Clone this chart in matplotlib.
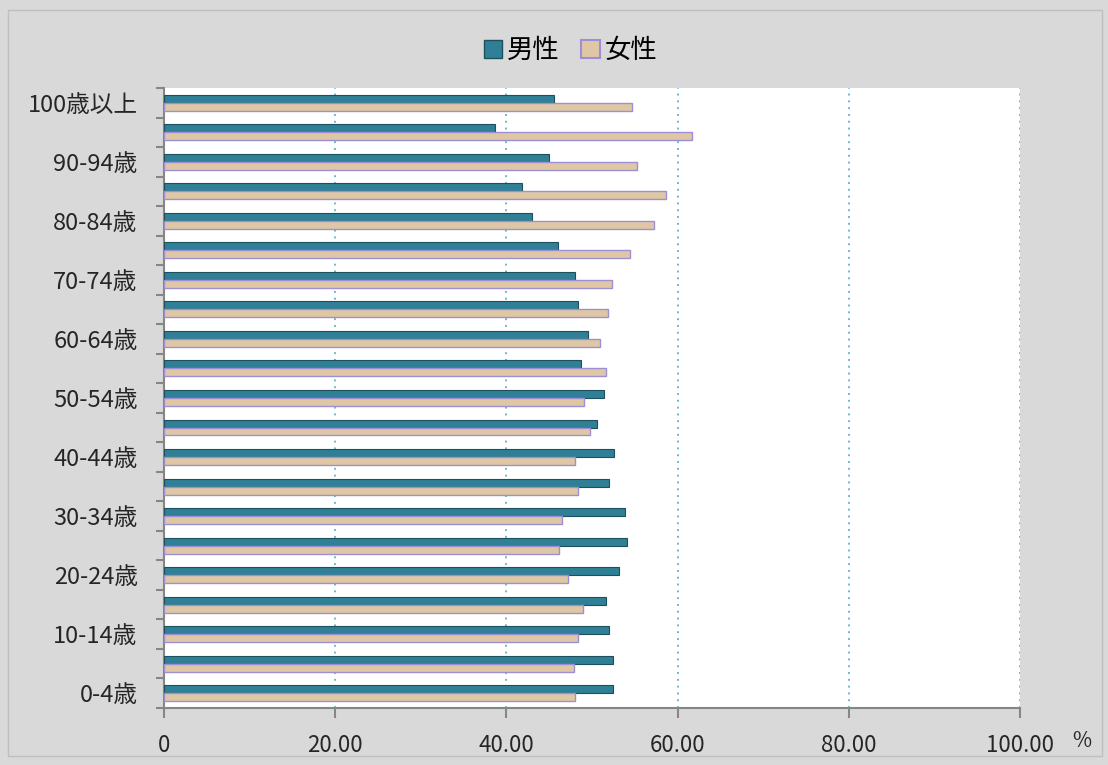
import numpy as np
import matplotlib.pyplot as plt
from matplotlib.patches import Rectangle, Patch

plt.rcParams['font.family'] = ['Noto Sans CJK JP', 'DejaVu Sans']

# age groups, bottom to top
ages = ['0-4歳', '5-9歳', '10-14歳', '15-19歳', '20-24歳', '25-29歳', '30-34歳',
        '35-39歳', '40-44歳', '45-49歳', '50-54歳', '55-59歳', '60-64歳', '65-69歳',
        '70-74歳', '75-79歳', '80-84歳', '85-89歳', '90-94歳', '95-99歳', '100歳以上']
male = [52.5, 52.5, 52.0, 51.6, 53.1, 54.1, 53.8, 52.0, 52.6, 50.6, 51.4,
        48.7, 49.5, 48.4, 48.0, 46.0, 43.0, 41.8, 45.0, 38.7, 45.6]
female = [48.0, 47.9, 48.4, 48.9, 47.2, 46.2, 46.5, 48.4, 48.0, 49.8, 49.1,
          51.6, 50.9, 51.9, 52.3, 54.4, 57.3, 58.7, 55.3, 61.7, 54.7]
xticks = [0, 20, 40, 60, 80, 100]
xticklabels = ['0', '20.00', '40.00', '60.00', '80.00', '100.00']

fig = plt.figure(figsize=(11.08, 7.65), dpi=100, facecolor='#d9d9d9')
fig.patches.append(Rectangle((0.007, 0.012), 0.988, 0.975, transform=fig.transFigure,
                             fill=False, edgecolor='#bfbfbf', lw=1))
ax = fig.add_axes([0.148, 0.0745, 0.7726, 0.8105])

y = np.arange(len(ages))
h = 0.27
ax.barh(y + h / 2, male, height=h, color='#2f8096', edgecolor='#1d4f5c', lw=0.8, zorder=3)
ax.barh(y - h / 2, female, height=h, color='#dfc7a5', edgecolor='#9c8fd4', lw=1.0, zorder=3)

ax.set_xlim(0, 100)
ax.set_ylim(-0.5, len(ages) - 0.5)
ax.set_xticks(xticks)
ax.set_xticklabels(xticklabels, fontsize=16, color='#262626')
ax.set_yticks(y[::2])
ax.set_yticklabels(ages[::2], fontsize=17, color='#262626')
ax.set_yticks(np.arange(len(ages) + 1) - 0.5, minor=True)
ax.tick_params(axis='y', which='major', length=0, pad=19)
ax.tick_params(axis='y', which='minor', length=6, width=1.5, color='#868686')
ax.tick_params(axis='x', length=7, width=1.5, color='#868686', pad=12)

ax.grid(axis='x', color='#6fb8cc', linestyle=(0, (1, 2.5)), lw=1.4, zorder=1)
for s in ['top', 'right']:
    ax.spines[s].set_visible(False)
for s in ['left', 'bottom']:
    ax.spines[s].set_color('#868686')
    ax.spines[s].set_linewidth(1.5)

fig.text(0.968, 0.032, '%', fontsize=15, color='#262626', va='center')

handles = [Patch(facecolor='#2f8096', edgecolor='#1d4f5c', label='男性'),
           Patch(facecolor='#dfc7a5', edgecolor='#9c8fd4', lw=1.5, label='女性')]
fig.legend(handles=handles, loc='center', bbox_to_anchor=(0.515, 0.934), ncol=2,
           frameon=False, fontsize=19, handlelength=0.7, handleheight=0.7,
           handletextpad=0.2, columnspacing=0.8)

fig.savefig('out.png', dpi=100, facecolor=fig.get_facecolor())
